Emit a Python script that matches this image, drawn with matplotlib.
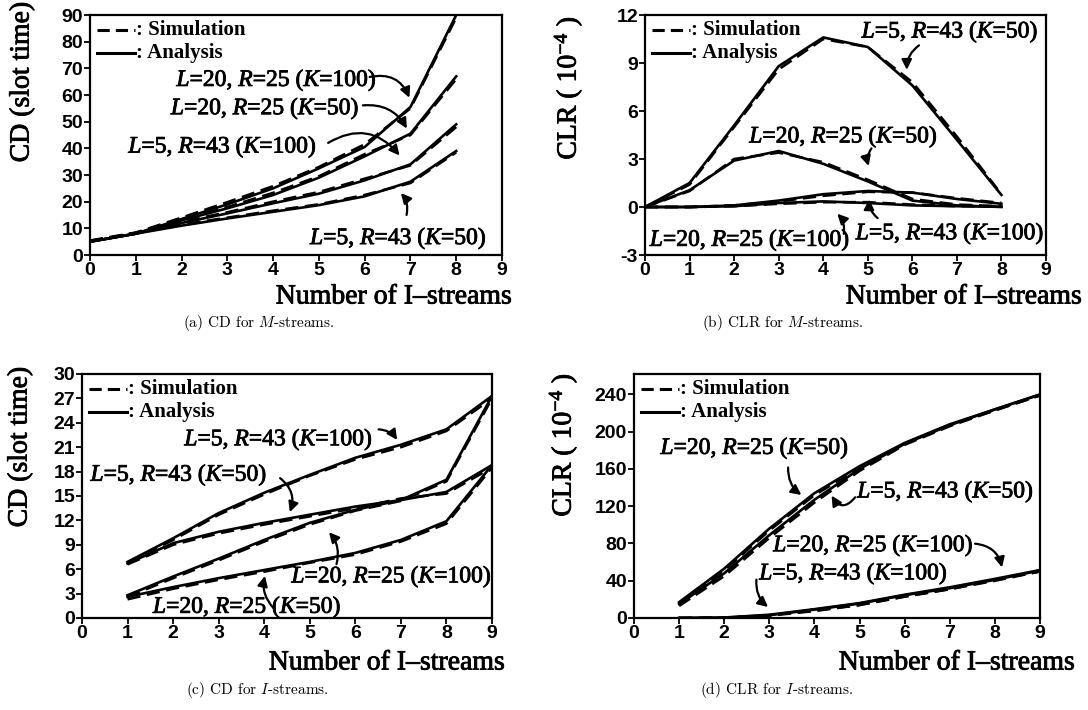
import matplotlib
matplotlib.use('Agg')
import matplotlib.pyplot as plt
import matplotlib.patheffects as pe

plt.rcParams['mathtext.fontset'] = 'custom'
plt.rcParams['mathtext.rm'] = 'Liberation Serif'
plt.rcParams['mathtext.it'] = 'Liberation Serif:italic'
plt.rcParams['mathtext.bf'] = 'Liberation Serif:bold'

# ---- data ----
x_m = [0, 1, 2, 3, 4, 5, 6, 7, 8]
x_i = [1, 2, 3, 4, 5, 6, 7, 8, 9]

# (a) CD for M-streams
a_ana_l20k100 = [5, 8, 13.5, 19, 25, 32.5, 40.5, 55.5, 90]
a_ana_l20k50 = [5, 8, 13, 17.5, 22.5, 29, 37, 45.5, 67]
a_ana_l5k100 = [5, 8, 12, 15.6, 19.4, 23, 28, 34, 49]
a_ana_l5k50 = [5, 8, 11, 13.7, 16.2, 18.7, 22, 27.5, 39]
a_sim_l20k100 = [5.4, 8.4, 14.0, 19.8, 25.8, 33.0, 41.5, 55.0, 89.0]
a_sim_l20k50 = [5.3, 8.3, 13.5, 18.0, 23.3, 29.5, 37.8, 45.0, 66.0]
a_sim_l5k100 = [5.2, 8.3, 12.5, 16.0, 20.0, 23.6, 28.6, 33.6, 48.0]
a_sim_l5k50 = [5.2, 8.2, 11.4, 14.0, 16.6, 19.0, 22.5, 27.0, 38.5]

# (b) CLR for M-streams
b_ana_l5k50 = [0, 1.5, 5.1, 8.8, 10.6, 10.0, 7.6, 4.2, 0.75]
b_ana_l20k50 = [0, 1.05, 2.9, 3.5, 2.7, 1.6, 0.4, 0.1, 0.0]
b_ana_l5k100 = [0, 0.0, 0.1, 0.4, 0.8, 1.0, 0.9, 0.5, 0.2]
b_ana_l20k100 = [0, 0.0, 0.05, 0.25, 0.35, 0.25, 0.1, 0.05, 0.02]
b_sim_l5k50 = [0, 1.4, 5.0, 8.6, 10.5, 10.0, 7.8, 4.4, 0.8]
b_sim_l20k50 = [0, 1.0, 3.0, 3.4, 2.8, 1.7, 0.5, 0.15, 0.05]
b_sim_l5k100 = [0, 0.0, 0.1, 0.35, 0.7, 0.95, 0.9, 0.55, 0.25]
b_sim_l20k100 = [0, 0.0, 0.05, 0.2, 0.3, 0.3, 0.15, 0.05, 0.05]

# (c) CD for I-streams
c_ana_l5k100 = [6.9, 9.8, 12.9, 15.4, 17.6, 19.7, 21.3, 23.2, 27.3]
c_ana_l5k50 = [6.7, 9.2, 10.6, 11.7, 12.7, 13.7, 14.5, 15.5, 18.8]
c_ana_l20k100 = [2.8, 5.1, 7.3, 9.6, 11.7, 13.3, 14.5, 17.0, 27.3]
c_ana_l20k50 = [2.6, 3.8, 4.9, 5.9, 6.9, 8.0, 9.6, 11.9, 18.8]
c_sim_l5k100 = [6.8, 9.6, 12.7, 15.2, 17.5, 19.5, 21.0, 23.0, 27.0]
c_sim_l5k50 = [6.6, 9.0, 10.4, 11.5, 12.5, 13.5, 14.7, 15.3, 18.5]
c_sim_l20k100 = [2.6, 4.9, 7.1, 9.4, 11.5, 13.2, 14.4, 16.8, 27.0]
c_sim_l20k50 = [2.3, 3.6, 4.7, 5.7, 6.8, 7.8, 9.4, 11.6, 18.5]

# (d) CLR for I-streams
d_ana_l20k50 = [17, 53, 96, 134, 163, 188, 208, 224, 240]
d_ana_l5k50 = [15, 48, 89, 127, 160, 187, 207, 224, 240]
d_ana_l20k100 = [0, 0.5, 3.5, 9.5, 16, 25, 33, 42, 51.5]
d_ana_l5k100 = [0, 0.3, 3, 9, 15.5, 24.5, 32, 41, 51]
d_sim_l20k50 = [16, 51, 94, 132, 161, 187, 207, 223, 239]
d_sim_l5k50 = [13, 45, 86, 124, 158, 186, 206, 223, 239]
d_sim_l20k100 = [0, 0.3, 3, 8, 14, 23, 31, 41, 50]
d_sim_l5k100 = [0, 0.2, 2.5, 7.5, 14, 23, 31, 40, 50]

W, H = 1088, 710
fig = plt.figure(figsize=(W / 100, H / 100), dpi=100)
thick = [pe.withStroke(linewidth=0.6, foreground='black')]  # scan looks heavier


def px(x, y):
    return x / W, 1 - y / H


def make_axes(l, t, r, b, ylim, yticks, ylabels=None):
    ax = fig.add_axes([l / W, 1 - b / H, (r - l) / W, (b - t) / H])
    ax.set_xlim(0, 9)
    ax.set_ylim(*ylim)
    ax.set_xticks(range(10))
    ax.set_yticks(yticks)
    if ylabels:
        ax.set_yticklabels(ylabels)
    ax.tick_params(direction='out', length=4, width=1.3, labelsize=14, pad=1)
    for lab in ax.get_xticklabels() + ax.get_yticklabels():
        lab.set_fontfamily('Liberation Sans')
        lab.set_fontweight('bold')
    for s in ax.spines.values():
        s.set_linewidth(1.6)
    ax._px = (r - l, b - t)
    return ax


def pair(ax, x, sim, ana):
    ax.plot(x, ana, color='black', lw=1.9)
    ax.plot(x, sim, color='black', lw=1.9, dashes=(5, 2.5))


def key(ax):
    w, h = ax._px
    for i, (d, lab) in enumerate([((4, 2), ': Simulation'), (None, ': Analysis')]):
        yy = 1 - (15 + 23 * i) / h
        ln, = ax.plot([7 / w, 45 / w], [yy, yy], transform=ax.transAxes,
                      color='black', lw=2.2, clip_on=False)
        if d:
            ln.set_dashes(d)
        ax.text(46 / w, yy, lab, transform=ax.transAxes, ha='left', va='center',
                fontsize=15, fontfamily='Liberation Serif', fontweight='bold')


def note(ax, text, txy, start, end, rad):
    ax.text(txy[0], txy[1], text, ha='center', va='center', fontsize=17,
            fontfamily='Liberation Serif', path_effects=thick)
    ax.annotate('', xy=end, xytext=start,
                arrowprops=dict(arrowstyle='-|>', color='black', lw=1.6,
                                mutation_scale=15,
                                connectionstyle='arc3,rad=%s' % rad))


# (a)
ax = make_axes(90, 15, 502, 255, (0, 90), range(0, 91, 10))
pair(ax, x_m, a_sim_l20k100, a_ana_l20k100)
pair(ax, x_m, a_sim_l20k50, a_ana_l20k50)
pair(ax, x_m, a_sim_l5k100, a_ana_l5k100)
pair(ax, x_m, a_sim_l5k50, a_ana_l5k50)
key(ax)
note(ax, r'$L$=20, $R$=25 ($K$=100)', (4.08, 65.6), (6.05, 66.5), (7.0, 58), -0.45)
note(ax, r'$L$=20, $R$=25 ($K$=50)', (3.83, 55), (5.9, 56), (6.95, 46.5), -0.35)
note(ax, r'$L$=5, $R$=43 ($K$=100)', (2.9, 40.6), (5.15, 41.5), (6.8, 36.5), -0.45)
note(ax, r'$L$=5, $R$=43 ($K$=50)', (6.74, 6.3), (6.9, 14), (6.75, 24), 0.3)

# (b)
ax = make_axes(645, 15, 1046, 255, (-3, 12), [-3, 0, 3, 6, 9, 12],
               ['-3', '0', '3', '6', '9', '12'])
pair(ax, x_m, b_sim_l5k50, b_ana_l5k50)
pair(ax, x_m, b_sim_l20k50, b_ana_l20k50)
pair(ax, x_m, b_sim_l5k100, b_ana_l5k100)
pair(ax, x_m, b_sim_l20k100, b_ana_l20k100)
key(ax)
note(ax, r'$L$=5, $R$=43 ($K$=50)', (6.85, 10.96), (6.2, 10.2), (5.88, 8.4), 0.3)
note(ax, r'$L$=20, $R$=25 ($K$=50)', (4.46, 4.4), (5.12, 3.8), (5.04, 2.4), 0.3)
note(ax, r'$L$=20, $R$=25 ($K$=100)', (2.36, -2.06), (4.45, -1.85), (4.27, -0.3), 0.3)
note(ax, r'$L$=5, $R$=43 ($K$=100)', (6.85, -1.65), (5.27, -0.8), (5.04, 0.65), -0.3)

# (c)
ax = make_axes(82, 374, 492, 618, (0, 30), range(0, 31, 3))
pair(ax, x_i, c_sim_l5k100, c_ana_l5k100)
pair(ax, x_i, c_sim_l5k50, c_ana_l5k50)
pair(ax, x_i, c_sim_l20k100, c_ana_l20k100)
pair(ax, x_i, c_sim_l20k50, c_ana_l20k50)
key(ax)
note(ax, r'$L$=5, $R$=43 ($K$=100)', (4.32, 21.96), (6.45, 23.2), (6.95, 21.6), -0.3)
note(ax, r'$L$=5, $R$=43 ($K$=50)', (2.13, 17.6), (4.3, 17.4), (4.54, 12.7), -0.4)
note(ax, r'$L$=20, $R$=25 ($K$=100)', (6.8, 5.1), (5.57, 6.3), (5.38, 10.8), 0.3)
note(ax, r'$L$=20, $R$=25 ($K$=50)', (3.63, 1.36), (4.25, 0.95), (4.03, 5.5), -0.3)

# (d)
ax = make_axes(634, 374, 1040, 618, (0, 262), range(0, 241, 40))
pair(ax, x_i, d_sim_l20k50, d_ana_l20k50)
pair(ax, x_i, d_sim_l5k50, d_ana_l5k50)
pair(ax, x_i, d_sim_l20k100, d_ana_l20k100)
pair(ax, x_i, d_sim_l5k100, d_ana_l5k100)
key(ax)
note(ax, r'$L$=20, $R$=25 ($K$=50)', (2.68, 182.5), (3.42, 164.6), (3.76, 130.4), 0.3)
note(ax, r'$L$=5, $R$=43 ($K$=50)', (6.91, 135.8), (4.94, 132), (4.35, 134), -0.8)
note(ax, r'$L$=20, $R$=25 ($K$=100)', (5.31, 78), (7.5, 80), (8.17, 51.4), -0.4)
note(ax, r'$L$=5, $R$=43 ($K$=100)', (4.87, 47.8), (2.72, 44.2), (3.02, 10), 0.3)

# axis labels
lab_kw = dict(fontfamily='Liberation Serif', fontsize=20, path_effects=thick)
for (x, y) in [(512, 297), (1082, 297), (505, 663), (1075, 663)]:
    fig.text(*px(x, y), 'Number of I\u2013streams', ha='right', va='center', **lab_kw)
fig.text(*px(22, 82), 'CD (slot time)', rotation=90, ha='center', va='center', **lab_kw)
fig.text(*px(20, 447), 'CD (slot time)', rotation=90, ha='center', va='center', **lab_kw)
fig.text(*px(568, 88), r'CLR ( $10^{-4}$ )', rotation=90, ha='center', va='center', **lab_kw)
fig.text(*px(563, 445), r'CLR ( $10^{-4}$ )', rotation=90, ha='center', va='center', **lab_kw)

# captions
cap_kw = dict(fontfamily='cmr10', fontsize=11, math_fontfamily='cm', ha='center', va='center')
fig.text(*px(259, 323), r'(a) CD for $M$-streams.', **cap_kw)
fig.text(*px(783, 323), r'(b) CLR for $M$-streams.', **cap_kw)
fig.text(*px(257, 690), r'(c) CD for $I$-streams.', **cap_kw)
fig.text(*px(777, 690), r'(d) CLR for $I$-streams.', **cap_kw)

fig.savefig('out.png', dpi=100)
